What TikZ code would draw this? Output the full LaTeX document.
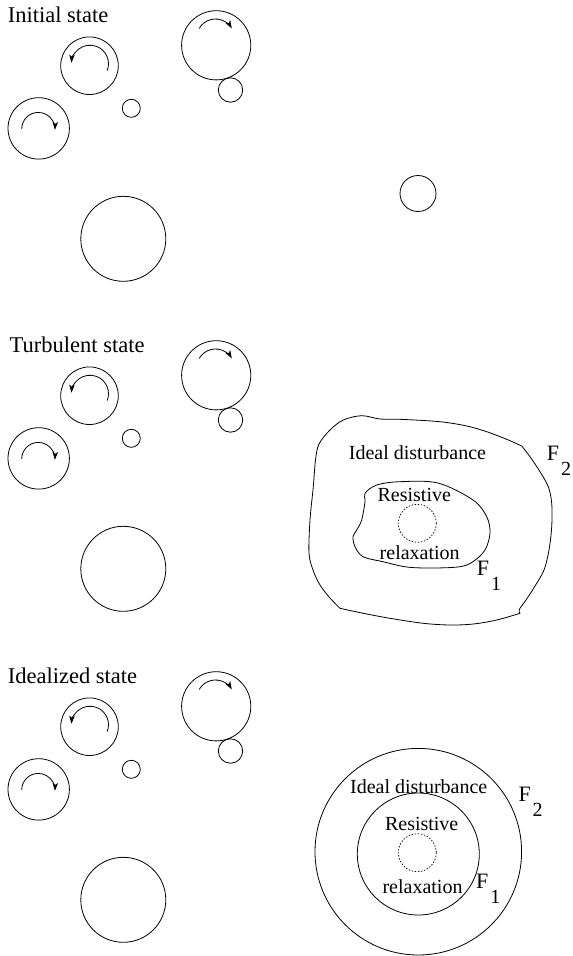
\documentclass[tikz,border=0pt]{standalone}
\usepackage{fontspec}
\setmainfont{Liberation Serif}
\usetikzlibrary{arrows.meta}
\tikzset{
  circ/.style={draw, circle, inner sep=0pt, line width=0.8pt},
  spin/.style={line width=0.8pt, -{Stealth[length=8pt,width=5.5pt,inset=2pt]}},
  titlelab/.style={anchor=base west, inner sep=0pt, font=\fontsize{22.5}{27}\selectfont},
  lab/.style={anchor=base, inner sep=0pt, font=\fontsize{20}{24}\selectfont},
  flab/.style={anchor=base west, inner sep=0pt, font=\fontsize{22}{26}\selectfont},
  boundary/.style={draw, line width=0.8pt, line join=round},
  core/.style={draw, circle, dash pattern=on 1.5pt off 1.6pt, line width=0.7pt, inner sep=0pt, minimum size=38pt},
}
\newcommand\Fsub[1]{F\kern2pt\raisebox{-15pt}{\fontsize{20}{24}\selectfont #1}}
\newcommand\cluster[2]{%
  \begin{scope}[yshift=-#1pt]
    \node[circ, minimum size=57.6pt] (#2A) at (89.5,65.7) {};
    \node[circ, minimum size=69.2pt] (#2B) at (216.2,45.3) {};
    \node[circ, minimum size=24.4pt] (#2S) at (230.5,90) {};
    \node[circ, minimum size=18pt] (#2M) at (131.3,108.3) {};
    \node[circ, minimum size=61.4pt] (#2C) at (38.7,128.4) {};
    \node[circ, minimum size=85pt] (#2D) at (123.3,238.8) {};
    \coordinate (#2ca) at (90,63.7);
    \coordinate (#2cb) at (215.5,37.8);
    \coordinate (#2cc) at (38.3,129);
    \draw[spin] ([shift={(22:18.5)}]#2ca) arc[start angle=22, end angle=-177, radius=18.5];
    \draw[spin] ([shift={(-150:18.8)}]#2cb) arc[start angle=-150, end angle=-30, radius=18.8];
    \draw[spin] ([shift={(-180:16.6)}]#2cc) arc[start angle=-180, end angle=3, radius=16.6];
  \end{scope}}
\begin{document}
\begin{tikzpicture}[x=1pt,y=-1pt]
  \fill[white] (0,0) rectangle (573,956);
  \useasboundingbox (0,0) rectangle (573,956);

  % Panel 1
  \node[titlelab] (t1) at (7.6,22.3) {Initial state};
  \cluster{0}{p}
  \node[circ, minimum size=36pt] (lone) at (418,193.5) {};

  % Panel 2
  \node[titlelab] (t2) at (9.5,352.3) {Turbulent state};
  \cluster{330}{q}
  \draw[boundary] plot[smooth, tension=0.55] coordinates {(340,608.3) (330,598) (320,585) (313,570) (309,553) (310,520) (313.3,486.7) (315.5,460) (319,444) (330,430) (343.3,420) (361.7,415.7) (380,419) (400,419.3) (440,421.7) (466.7,426) (486.7,431.7) (506.7,439.3) (521.7,446)}
    -- plot[smooth, tension=0.55] coordinates {(521.7,446) (530,456.7) (540,471.7) (548.3,486.7) (551.7,503.3) (551.7,526.7) (549,550) (544,570) (535,586) (526,600) (519.3,609.5) (520,613.3)}
    -- plot[smooth, tension=0.55] coordinates {(520,613.3) (496.7,620) (473.3,624) (450,625) (423.3,623.3) (390,618.3) (363.3,613.3) (340,608.3)} -- cycle;
  \draw[boundary] plot[smooth cycle, tension=0.55] coordinates {(365,493.3) (376.7,485) (400,481.7) (438,483) (473,500) (486.7,516.7) (490,533) (485,550) (473,561.7) (460,566.7) (433,568) (406.7,567) (383,561.7) (363,556.7) (355,546.7) (353,536.7) (356.7,530) (361.7,520) (365,501.7)};
  \node[core] (dq) at (417.3,523.3) {};
  \node[lab] (id2) at (417.5,459.3) {Ideal disturbance};
  \node[lab] (rs2) at (414.3,501.7) {Resistive};
  \node[lab] (rx2) at (419.7,559.3) {relaxation};
  \node[flab] (f22) at (546.7,460.7) {\Fsub{2}};
  \node[flab] (f12) at (476.7,575) {\Fsub{1}};

  % Panel 3
  \node[titlelab] (t3) at (7.6,683.3) {Idealized state};
  \cluster{661}{r}
  \node[circ, minimum size=206.6pt] (outer) at (418.3,851.7) {};
  \node[circ, minimum size=122pt] (inner) at (418.3,854) {};
  \node[core] (dr) at (417.3,852.7) {};
  \node[lab] (id3) at (418.7,793.3) {Ideal disturbance};
  \node[lab] (rs3) at (421.7,830) {Resistive};
  \node[lab] (rx3) at (422.5,893.3) {relaxation};
  \node[flab] (f23) at (518.3,801.7) {\Fsub{2}};
  \node[flab] (f13) at (476,888.3) {\Fsub{1}};
\end{tikzpicture}
\end{document}
